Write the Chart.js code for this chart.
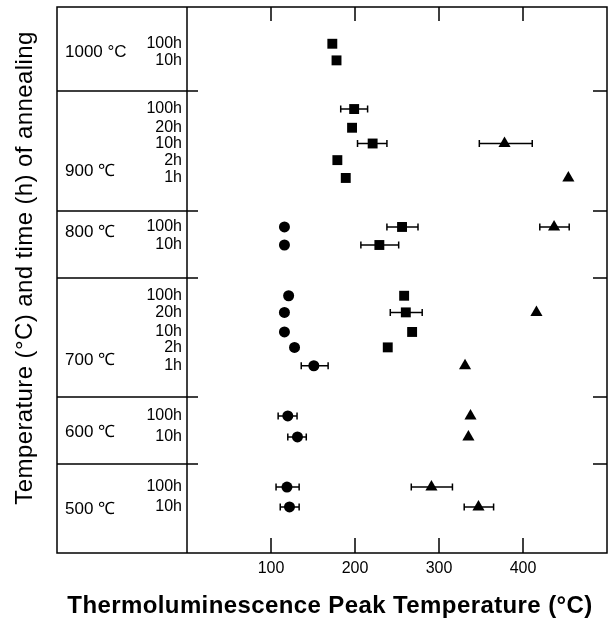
<!DOCTYPE html>
<html>
<head>
<meta charset="utf-8">
<script src="https://cdn.jsdelivr.net/npm/chart.js@4"></script>
<style>
  html, body { margin: 0; padding: 0; background: #fff; }
  #wrap { width: 609px; height: 621px; position: relative; }
</style>
</head>
<body>
<div id="wrap"><canvas id="tlChart"></canvas></div>
<script>
// annealing groups (temperature) and where their labels / separators sit on the row axis
const groups = ['1000 °C', '900 ℃', '800 ℃', '700 ℃', '600 ℃', '500 ℃'];
const groupPos = [2.6, 9.4, 12.9, 20.2, 24.3, 28.7];
const groupEdges = [4.8, 11.66, 15.49, 22.29, 26.11];

// one entry per annealing time row, top to bottom
const times = ['100h', '10h',
  '100h', '20h', '10h', '2h', '1h',
  '100h', '10h',
  '100h', '20h', '10h', '2h', '1h',
  '100h', '10h',
  '100h', '10h'];
const rowPos = [2.1, 3.05,
  5.83, 6.9, 7.8, 8.75, 9.77,
  12.57, 13.6,
  16.5, 17.45, 18.57, 19.45, 20.5,
  23.37, 24.57,
  27.43, 28.57];

// TL peak temperatures (°C)
const circles = [null, null,
  null, null, null, null, null,
  116, 116,
  121, 116, 116, 128, 151,
  120, 131.5,
  119, 122];
const squares = [173, 178,
  199, 196.5, 221, 179, 189,
  256, 229,
  258.5, 260.5, 268, 239, null,
  null, null,
  null, null];
const triangles = [null, null,
  null, null, 378, null, 454,
  437, null,
  null, 416, null, null, 331,
  337.5, 335,
  291, 347];

// horizontal error bars [low, high], by row index
const circleErr = { 13: [136, 168], 14: [108.5, 131], 15: [120, 142], 16: [106, 133.5], 17: [111, 133.5] };
const squareErr = { 2: [183, 215], 4: [203, 238], 7: [238, 275], 8: [207, 252], 10: [242, 280] };
const triangleErr = { 4: [348, 411], 7: [420, 455], 16: [267, 316], 17: [330, 365] };

const xTicks = [100, 200, 300, 400];

function toPoints(vals) {
  const pts = [];
  vals.forEach((v, i) => { if (v !== null) pts.push({ x: v, y: rowPos[i] }); });
  return pts;
}

const FONT = '"Liberation Sans", Arial, Helvetica, sans-serif';
const PANEL_LEFT = 57;

// draws frame, label panel, ticks, titles and error bars
const figurePlugin = {
  id: 'figure',
  beforeDatasetsDraw(chart) {
    const ctx = chart.ctx;
    const xs = chart.scales.x, ys = chart.scales.y;
    ctx.save();
    ctx.strokeStyle = '#000';
    ctx.lineWidth = 1.5;
    [circleErr, squareErr, triangleErr].forEach(errs => {
      Object.keys(errs).forEach(k => {
        const y = ys.getPixelForValue(rowPos[k]);
        const x1 = xs.getPixelForValue(errs[k][0]);
        const x2 = xs.getPixelForValue(errs[k][1]);
        ctx.beginPath();
        ctx.moveTo(x1, y); ctx.lineTo(x2, y);
        ctx.moveTo(x1, y - 3.5); ctx.lineTo(x1, y + 3.5);
        ctx.moveTo(x2, y - 3.5); ctx.lineTo(x2, y + 3.5);
        ctx.stroke();
      });
    });
    ctx.restore();
  },
  afterDraw(chart) {
    const ctx = chart.ctx;
    const a = chart.chartArea;
    const xs = chart.scales.x, ys = chart.scales.y;
    ctx.save();
    ctx.strokeStyle = '#000';
    ctx.fillStyle = '#000';
    ctx.lineWidth = 1.5;

    // outer frame + panel divider
    ctx.strokeRect(PANEL_LEFT, a.top, a.right - PANEL_LEFT, a.bottom - a.top);
    ctx.beginPath();
    ctx.moveTo(a.left, a.top); ctx.lineTo(a.left, a.bottom);
    ctx.stroke();

    // group separators (into plot a little) and right-side ticks
    groupEdges.forEach(v => {
      const y = ys.getPixelForValue(v);
      ctx.beginPath();
      ctx.moveTo(PANEL_LEFT, y); ctx.lineTo(a.left + 11, y);
      ctx.moveTo(a.right - 14, y); ctx.lineTo(a.right, y);
      ctx.stroke();
    });

    // x ticks, inward at top and bottom
    ctx.font = '16px ' + FONT;
    ctx.textAlign = 'center';
    ctx.textBaseline = 'middle';
    xTicks.forEach(t => {
      const x = xs.getPixelForValue(t);
      ctx.beginPath();
      ctx.moveTo(x, a.top); ctx.lineTo(x, a.top + 14);
      ctx.moveTo(x, a.bottom); ctx.lineTo(x, a.bottom - 15);
      ctx.stroke();
      ctx.fillText(String(t), x, a.bottom + 16);
    });

    // time labels
    ctx.font = '16px ' + FONT;
    ctx.textAlign = 'right';
    times.forEach((t, i) => {
      ctx.fillText(t, a.left - 5, ys.getPixelForValue(rowPos[i]));
    });

    // temperature labels
    ctx.textAlign = 'left';
    ctx.font = '17px ' + FONT;
    groups.forEach((g, i) => {
      ctx.fillText(g, 65, ys.getPixelForValue(groupPos[i]));
    });

    // axis titles
    ctx.font = 'bold 24px ' + FONT;
    ctx.letterSpacing = '0.4px';
    ctx.textAlign = 'center';
    ctx.fillText('Thermoluminescence Peak Temperature (°C)', 330, a.bottom + 53);

    ctx.font = '24px ' + FONT;
    ctx.translate(25, 268);
    ctx.rotate(-Math.PI / 2);
    ctx.fillText('Temperature (°C) and time (h) of annealing', 0, 0);
    ctx.restore();
  }
};

new Chart(document.getElementById('tlChart'), {
  type: 'scatter',
  data: {
    datasets: [
      { label: 'circles', data: toPoints(circles), pointStyle: 'circle', pointRadius: 5.5,
        backgroundColor: '#000', borderColor: '#000', borderWidth: 0 },
      { label: 'squares', data: toPoints(squares), pointStyle: 'rect', pointRadius: 7,
        backgroundColor: '#000', borderColor: '#000', borderWidth: 0 },
      { label: 'triangles', data: toPoints(triangles), pointStyle: 'triangle', pointRadius: 7,
        backgroundColor: '#000', borderColor: '#000', borderWidth: 0 }
    ]
  },
  options: {
    responsive: true,
    maintainAspectRatio: false,
    animation: false,
    events: [],
    layout: { autoPadding: false, padding: { left: 187, top: 7, right: 2, bottom: 68 } },
    plugins: { legend: { display: false }, tooltip: { enabled: false } },
    scales: {
      x: { type: 'linear', min: 0, max: 500, display: false },
      y: { type: 'linear', min: 0, max: 31.2, reverse: true, display: false }
    }
  },
  plugins: [figurePlugin]
});
</script>
</body>
</html>
